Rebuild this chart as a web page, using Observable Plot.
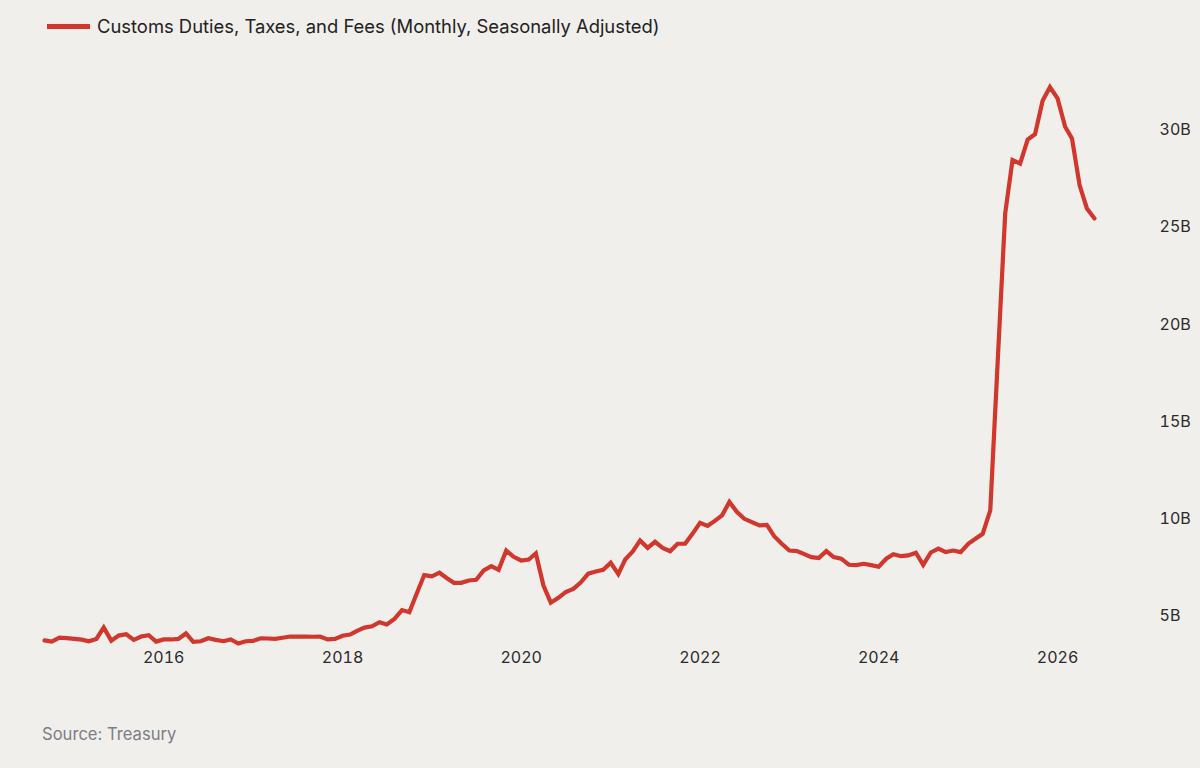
<!DOCTYPE html>
<html>
<head>
<meta charset="utf-8">
<script src="https://cdn.jsdelivr.net/npm/d3@7"></script>
<script src="https://cdn.jsdelivr.net/npm/@observablehq/plot@0.6"></script>
<style>
  html, body { margin: 0; padding: 0; background: #f1efec; }
  body { width: 1200px; height: 768px; overflow: hidden; font-family: Inter, "Noto Sans", sans-serif; }
  #legend { height: 50px; position: relative; }
  #legend .swatch { position: absolute; left: 47px; top: 24px; width: 43px; height: 5px; background: #d1372c; }
  #legend .label { position: absolute; left: 97px; top: 15px; font-size: 18.4px; color: #222; white-space: nowrap; }
  #chart svg { display: block; }
  #caption { position: absolute; left: 42px; top: 724px; font-size: 16.6px; color: #7d7d85; }
</style>
</head>
<body>
<div id="legend"><div class="swatch"></div><div class="label"></div></div>
<div id="chart"></div>
<div id="caption"></div>
<script>
const seriesName = "Customs Duties, Taxes, and Fees (Monthly, Seasonally Adjusted)";
const sourceText = "Source: Treasury";
const firstMonth = "2014-09-01";
const lastMonth = "2026-06-01";
// Monthly values in billions of dollars, Sep 2014 onward
const values = [
  3.76, 3.70, 3.90, 3.88, 3.84, 3.80, 3.72, 3.84, 4.42, 3.75, 4.01, 4.08, 3.79, 3.96, 4.03, 3.70,
  3.81, 3.81, 3.84, 4.12, 3.69, 3.72, 3.87, 3.79, 3.72, 3.81, 3.60, 3.72, 3.74, 3.87, 3.86, 3.84,
  3.90, 3.96, 3.96, 3.96, 3.95, 3.96, 3.81, 3.84, 4.00, 4.06, 4.25, 4.42, 4.49, 4.70, 4.58, 4.87,
  5.32, 5.21, 6.20, 7.12, 7.05, 7.24, 6.98, 6.72, 6.72, 6.84, 6.88, 7.36, 7.58, 7.39, 8.38, 8.06,
  7.87, 7.92, 8.24, 6.58, 5.70, 5.95, 6.24, 6.41, 6.75, 7.19, 7.30, 7.39, 7.75, 7.17, 7.92, 8.33,
  8.90, 8.52, 8.83, 8.52, 8.35, 8.73, 8.73, 9.24, 9.81, 9.65, 9.89, 10.19, 10.88, 10.36, 10.01, 9.84,
  9.67, 9.70, 9.10, 8.73, 8.38, 8.35, 8.21, 8.04, 7.99, 8.35, 8.04, 7.96, 7.65, 7.63, 7.70, 7.63,
  7.55, 7.96, 8.19, 8.09, 8.13, 8.27, 7.64, 8.28, 8.48, 8.30, 8.38, 8.30, 8.73, 9.00, 9.24, 10.44,
  18.0, 25.7, 28.45, 28.27, 29.5, 29.78, 31.5, 32.2, 31.62, 30.16, 29.56, 27.16, 25.96, 25.45
];
const yTicks = [5, 10, 15, 20, 25, 30];
const xTickYears = [2016, 2018, 2020, 2022, 2024, 2026];

const start = new Date(firstMonth);
const data = values.map((v, i) => ({ date: d3.utcMonth.offset(start, i), value: v }));

document.querySelector("#legend .label").textContent = seriesName;
document.getElementById("caption").textContent = sourceText;

const chart = Plot.plot({
  width: 1200,
  height: 640,
  marginLeft: 44,
  marginRight: 106,
  marginTop: 21,
  marginBottom: 45,
  style: { background: "transparent", fontFamily: "Inter, 'Noto Sans', sans-serif", fontSize: "16px", color: "#2a2a2a" },
  x: { type: "utc", domain: [new Date(firstMonth), new Date(lastMonth)] },
  y: { domain: [3.5, 33] },
  marks: [
    Plot.axisX({
      ticks: xTickYears.map(y => new Date(Date.UTC(y, 0, 1))),
      tickFormat: d => String(d.getUTCFullYear()),
      tickSize: 0, tickPadding: 6, label: null, fontSize: 16
    }),
    Plot.axisY({
      anchor: "right", ticks: yTicks, tickFormat: d => d + "B",
      tickSize: 0, tickPadding: 65, label: null, fontSize: 16, textAnchor: "start"
    }),
    Plot.line(data, { x: "date", y: "value", stroke: "#d1372c", strokeWidth: 4.2, strokeLinejoin: "miter", strokeMiterlimit: 4 })
  ]
});
document.getElementById("chart").appendChild(chart);
</script>
</body>
</html>
